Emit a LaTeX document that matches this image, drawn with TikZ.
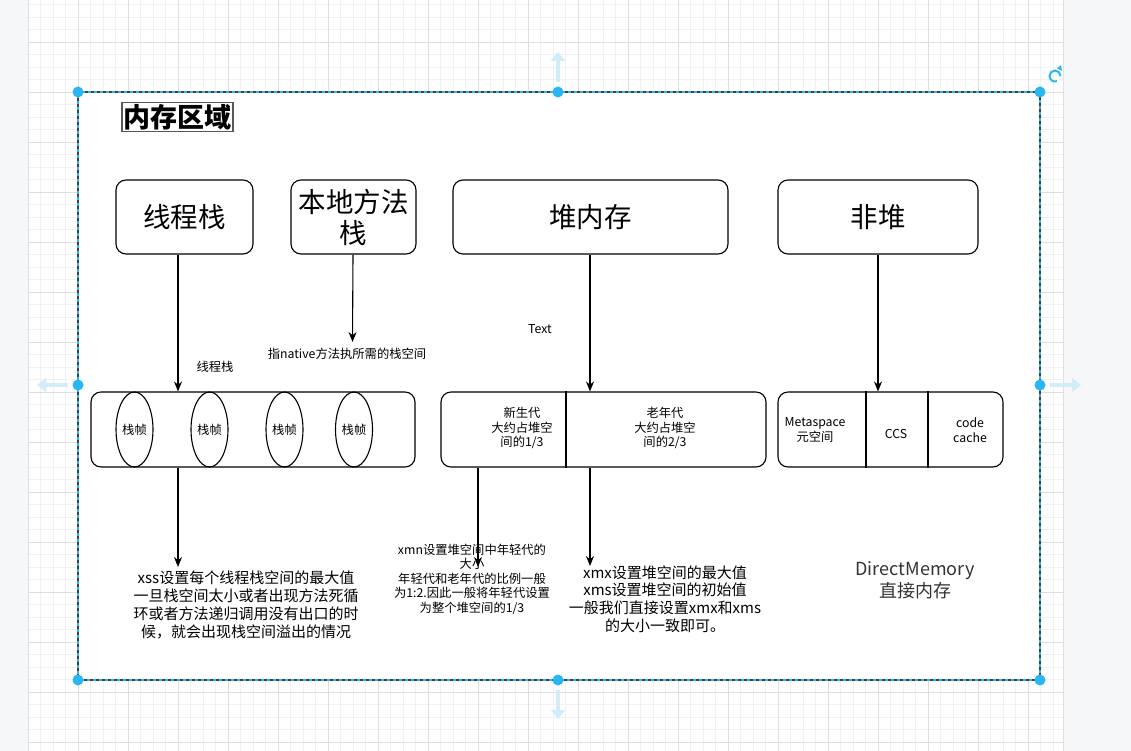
\documentclass[tikz,border=0pt]{standalone}
\usepackage{fontspec}
\setmainfont{Noto Sans CJK SC}
\usetikzlibrary{arrows.meta,shapes.geometric}
\definecolor{handle}{HTML}{29B6F2}
\definecolor{hint}{HTML}{D3ECFA}
\definecolor{gridmajor}{HTML}{DEDEDE}
\definecolor{gridminor}{HTML}{F1F1F1}
\definecolor{sidegray}{HTML}{F6F7F9}
\definecolor{textgray}{HTML}{333333}
\begin{document}
\begin{tikzpicture}[x=1pt,y=-1pt,
  headbox/.style={draw, rounded corners=10pt, line width=1.1pt, inner sep=0pt,
    font=\fontsize{27.5}{31}\selectfont, align=center},
  cell/.style={draw, rounded corners=10pt, line width=1.1pt, inner sep=0pt},
  framecell/.style={draw, ellipse, line width=1.1pt, inner sep=0pt,
    minimum width=37pt, minimum height=75pt, font=\fontsize{12.3}{14}\selectfont},
  arr/.style={-{Stealth[length=10pt,width=8pt]}, line width=1.1pt},
  small/.style={font=\fontsize{12.3}{14.5}\selectfont, align=center, inner sep=0pt},
  note/.style={font=\fontsize{15}{17.8}\selectfont, align=center, inner sep=0pt},
  hintarrow/.style={hint, line width=4pt, -{Triangle[length=9pt,width=14pt]}}]
\useasboundingbox (0,0) rectangle (1131,751);

% canvas with grid
\fill[white] (0,0) rectangle (1131,751);
\foreach \x in {28,40.5,...,1063} \draw[gridminor, line width=0.8pt] (\x,0) -- (\x,751);
\foreach \y in {4.5,17,...,751} \draw[gridminor, line width=0.8pt] (28,\y) -- (1063,\y);
\foreach \x in {28,78,...,1063} \draw[gridmajor, line width=0.8pt] (\x,0) -- (\x,751);
\foreach \y in {42,92,...,751} \draw[gridmajor, line width=0.8pt] (28,\y) -- (1063,\y);
\fill[sidegray] (0,0) rectangle (27.5,751);
\fill[sidegray] (1063.5,0) rectangle (1131,751);
\draw[black!12, line width=1pt] (1063.5,0) -- (1063.5,751);

% selected container
\fill[white] (78,92) rectangle (1040,680);
\draw[handle, line width=1.2pt] (78,92) rectangle (1040,680);
\draw[black!75, line width=1.2pt, dash pattern=on 3pt off 3pt] (78,92) rectangle (1040,680);
\foreach \p in {(78,92),(558,92),(1040,92),(78,385),(1040,385),(78,680),(558,680),(1040,680)}
  \fill[handle] \p circle[radius=5.5pt];
\draw[hintarrow] (558,82) -- (558,52);
\draw[hintarrow] (558,690) -- (558,719);
\draw[hintarrow] (68,385) -- (37,385);
\draw[hintarrow] (1050,385) -- (1081,385);
\draw[handle, line width=2pt] (1060.5,76) arc[start angle=0, end angle=290, radius=5.5pt];
\fill[handle] (1057,68.5) -- (1062,71) -- (1061,65) -- cycle;

% title
\node[draw=black!65, line width=1.2pt, inner sep=1.5pt, font=\fontsize{27}{30}\selectfont\bfseries]
  (title) at (177.5,117) {内存区域};

% memory area headers
\node[headbox, minimum width=137pt, minimum height=74pt] (threadstack) at (184.5,217) {线程栈};
\node[headbox, minimum width=125pt, minimum height=74pt] (nativestack) at (353.5,217) {本地方法\\栈};
\node[headbox, minimum width=275pt, minimum height=74pt] (heaphead) at (590.5,217) {堆内存};
\node[headbox, minimum width=200pt, minimum height=74pt] (nonheaphead) at (878,217) {非堆};

% thread stack with frames
\node[cell, minimum width=324pt, minimum height=75pt] (stack) at (253,429.5) {};
\node[framecell] (f1) at (134.5,429.5) {栈帧};
\node[framecell] (f2) at (209.5,429.5) {栈帧};
\node[framecell] (f3) at (284.5,429.5) {栈帧};
\node[framecell] (f4) at (354,429.5) {栈帧};

% heap: young and old generation
\node[cell, minimum width=325pt, minimum height=75pt] (heap) at (603.5,429.5) {};
\draw[line width=1.1pt] (heap.north -| 566,0) -- (heap.south -| 566,0);
\node[small] (young) at (522,428) {新生代\\大约占堆空\\间的1/3};
\node[small] (old) at (665,428) {老年代\\大约占堆空\\间的2/3};

% non-heap
\node[cell, minimum width=225pt, minimum height=75pt] (meta) at (890.5,429.5) {};
\draw[line width=1.1pt] (meta.north -| 866,0) -- (meta.south -| 866,0);
\draw[line width=1.1pt] (meta.north -| 928,0) -- (meta.south -| 928,0);
\node[small] (metaspace) at (815,430) {Metaspace\\元空间};
\node[small] (ccs) at (896,434) {CCS};
\node[small] (codecache) at (970,430) {code\\cache};

% connectors from headers
\draw[arr] (threadstack.south -| 178,0) -- (stack.north -| 178,0);
\coordinate (nativeend) at (352.5,342);
\draw[arr] (nativestack.south -| 353,0) -- (nativeend);
\draw[arr] (heaphead.south -| 590,0) -- (heap.north -| 590,0);
\draw[arr] (nonheaphead.south) -- (meta.north -| 878,0);

\node[small] (textlabel) at (540,329) {Text};
\node[small] (stacklabel) at (215,367) {线程栈};
\node[small] (nativelabel) at (347,354) {指native方法执所需的栈空间};

% settings notes
\coordinate (xssend) at (178,567);
\draw[arr] (stack.south -| 178,0) -- (xssend);
\node[note] (xss) at (246,605) {xss设置每个线程栈空间的最大值\\一旦栈空间太小或者出现方法死循\\环或者方法递归调用没有出口的时\\候，就会出现栈空间溢出的情况};

\coordinate (xmnend) at (478,567);
\draw[arr] (heap.south -| 478,0) -- (xmnend);
\node[small] (xmn) at (472,579) {xmn设置堆空间中年轻代的\\大小\\年轻代和老年代的比例一般\\为1:2.因此一般将年轻代设置\\为整个堆空间的1/3};

\coordinate (xmxend) at (590,566);
\draw[arr] (heap.south -| 590,0) -- (xmxend);
\node[note] (xmx) at (665,599) {xmx设置堆空间的最大值\\xms设置堆空间的初始值\\一般我们直接设置xmx和xms\\的大小一致即可。};

\node[font=\fontsize{18}{22}\selectfont, text=textgray, align=center, inner sep=0pt]
  (direct) at (915,580) {DirectMemory\\直接内存};
\end{tikzpicture}
\end{document}
